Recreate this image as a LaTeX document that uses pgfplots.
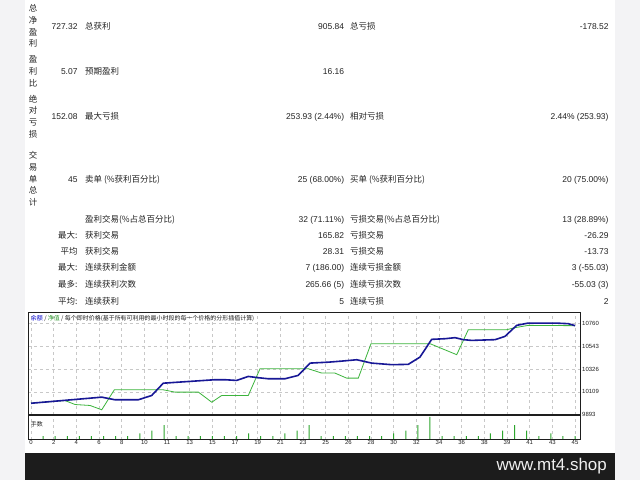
\documentclass[border=0pt]{standalone}
\usepackage{fontspec}
\usepackage{pgfplots}
\pgfplotsset{compat=1.18}
\setmainfont{Liberation Sans}
\newfontfamily\cjk{Noto Sans CJK SC}

\definecolor{txt}{RGB}{34,34,34}
\definecolor{side}{RGB}{243,243,245}
\definecolor{band}{RGB}{28,28,28}
\definecolor{bal}{RGB}{24,24,150}
\definecolor{eq}{RGB}{60,180,60}
\definecolor{lot}{RGB}{45,165,45}
\definecolor{gridc}{RGB}{200,200,200}
\definecolor{frame}{RGB}{30,30,30}

% right aligned value / left aligned label, y is the row centre in px
\newcommand\val[3]{\node[anchor=base east,inner sep=0,txt] at (#1,-#2-3.2) {#3};}
\newcommand\lab[3]{\node[anchor=base west,inner sep=0,txt] at (#1,-#2-3.2) {\cjk #3};}

\begin{document}
\begin{tikzpicture}
\begin{scope}[x=1bp,y=1bp]
  \useasboundingbox (0,0) rectangle (640,-480);
  \fill[white] (0,0) rectangle (640,-480);
  \fill[side] (0,0) rectangle (25,-480);
  \fill[side] (615,0) rectangle (640,-480);
  \fill[band] (25,-452.7) rectangle (615,-480);
  \node[anchor=base east,inner sep=0,text={rgb,255:red,240;green,240;blue,240},
        font=\fontsize{17}{19}\selectfont] at (607,-470.7) {www.mt4.shop};

  \begin{scope}[font=\fontsize{8.5}{11.7}\selectfont]
  % vertical group labels
  \node[align=center,inner sep=0,txt,font=\fontsize{8.5}{11.7}\selectfont\cjk] at (33,-26) {总\\净\\盈\\利};
  \node[align=center,inner sep=0,txt,font=\fontsize{8.5}{11.7}\selectfont\cjk] at (33,-71.5) {盈\\利\\比};
  \node[align=center,inner sep=0,txt,font=\fontsize{8.5}{11.7}\selectfont\cjk] at (33,-116.5) {绝\\对\\亏\\损};
  \node[align=center,inner sep=0,txt,font=\fontsize{8.5}{11.7}\selectfont\cjk] at (33,-179) {交\\易\\单\\总\\计};

  \val{77.7}{26}{727.32}   \lab{85}{26}{总获利}
  \val{344.3}{26}{905.84}  \lab{350}{26}{总亏损}
  \val{608.7}{26}{-178.52}

  \val{77.7}{71}{5.07}     \lab{85}{71}{预期盈利}
  \val{344.3}{71}{16.16}

  \val{77.7}{116.7}{152.08}  \lab{85}{116.7}{最大亏损}
  \val{344.3}{116.7}{253.93 (2.44\%)}  \lab{350}{116.7}{相对亏损}
  \val{608.7}{116.7}{2.44\% (253.93)}

  \val{77.7}{179.3}{45}    \lab{85}{179.3}{卖单 (\%获利百分比)}
  \val{344.3}{179.3}{25 (68.00\%)}  \lab{350}{179.3}{买单 (\%获利百分比)}
  \val{608.7}{179.3}{20 (75.00\%)}

  \lab{85}{219}{盈利交易(\%占总百分比)}
  \val{344.3}{219}{32 (71.11\%)}  \lab{350}{219}{亏损交易(\%占总百分比)}
  \val{608.7}{219}{13 (28.89\%)}

  \val{77.7}{235}{\cjk 最大:}  \lab{85}{235}{获利交易}
  \val{344.3}{235}{165.82}  \lab{350}{235}{亏损交易}
  \val{608.7}{235}{-26.29}

  \val{77.7}{251}{\cjk 平均}  \lab{85}{251}{获利交易}
  \val{344.3}{251}{28.31}  \lab{350}{251}{亏损交易}
  \val{608.7}{251}{-13.73}

  \val{77.7}{267.7}{\cjk 最大:}  \lab{85}{267.7}{连续获利金额}
  \val{344.3}{267.7}{7 (186.00)}  \lab{350}{267.7}{连续亏损金额}
  \val{608.7}{267.7}{3 (-55.03)}

  \val{77.7}{284.3}{\cjk 最多:}  \lab{85}{284.3}{连续获利次数}
  \val{344.3}{284.3}{265.66 (5)}  \lab{350}{284.3}{连续亏损次数}
  \val{608.7}{284.3}{-55.03 (3)}

  \val{77.7}{301}{\cjk 平均:}  \lab{85}{301}{连续获利}
  \val{344.3}{301}{5}  \lab{350}{301}{连续亏损}
  \val{608.7}{301}{2}
  \end{scope}
\end{scope}

% balance / equity chart
\begin{axis}[
  at={(28bp,-414.5bp)}, anchor=south west,
  width=552.5bp, height=102.5bp, scale only axis,
  xmin=-0.25, xmax=45.45, ymin=9893, ymax=10868,
  axis line style={frame,line width=1bp},
  xtick={0,1.875,...,45}, xticklabels={},
  ytick={9893,10109,10326,10543,10760},
  yticklabels={9893,10109,10326,10543,10760},
  scaled y ticks=false,
  yticklabel pos=right,
  major tick length=0,
  grid=major, grid style={gridc,dashed,line width=0.5bp},
  yticklabel style={font=\fontsize{6}{7}\selectfont,text=txt,inner sep=1.5bp},
]
\addplot[eq,line width=0.8bp] coordinates {
 (0,10001) (2.81,10026) (3.64,9988) (4.88,9979) (5.85,9938) (6.89,10128)
 (10.94,10128) (11.91,10106) (13.84,10106) (14.95,10010) (15.77,10074)
 (17.97,10074) (18.94,10328) (22.94,10328) (24.05,10287) (25.14,10287)
 (26.11,10239) (27.07,10239) (28.12,10567) (33.0,10567) (35.21,10462)
 (36.17,10700) (39.35,10700) (40.03,10719) (41.13,10741) (45,10738)
};
\addplot[bal,line width=1.6bp] coordinates {
 (0,10000) (5.85,10058) (6.95,10033) (8.87,10033) (9.98,10074) (10.94,10191)
 (15.22,10224) (16.05,10224) (17.0,10217) (17.97,10255) (18.8,10243)
 (19.63,10233) (21.0,10233) (22.1,10265) (23.08,10382) (24.6,10391)
 (25.7,10401) (26.94,10414) (28.18,10382) (29.83,10367) (31.2,10370)
 (32.17,10439) (33.14,10608) (34.24,10614) (35.07,10624) (35.76,10605)
 (36.45,10598) (38.38,10605) (39.2,10636) (40.17,10741) (41.13,10763)
 (43.34,10763) (44.44,10757) (45,10738)
};
\node[anchor=base west,inner sep=0,font=\fontsize{6}{7}\selectfont\cjk,text=txt]
  at (rel axis cs:0.005,0.915) {\textcolor{blue!80!black}{余额} / \textcolor{eq!85!black}{净值} / 每个即时价格(基于所有可利用的最小时段的每一个价格的分形插值计算)};
\end{axis}

% lots panel
\begin{axis}[
  at={(28bp,-439.5bp)}, anchor=south west,
  width=552.5bp, height=24.5bp, scale only axis,
  xmin=-0.25, xmax=45.45, ymin=-0.2, ymax=8.7,
  axis line style={frame,line width=1bp},
  xtick={0,1.875,...,45},
  xticklabels={0,2,4,6,8,10,11,13,15,17,19,21,23,25,26,28,30,32,34,36,38,39,41,43,45},
  ytick=\empty,
  major tick length=0,
  xmajorgrids, grid style={gridc,dashed,line width=0.5bp},
  xticklabel style={font=\fontsize{6}{7}\selectfont,text=txt,inner sep=1bp},
]
\addplot[ybar,bar width=1bp,bar shift=0pt,fill=lot,draw=none] coordinates {
 (1,1) (2,1) (3,1) (4,1) (5,1) (6,1) (7,1) (8,1) (9,2) (10,3) (11,5)
 (12,1) (13,1) (14,1) (15,1) (16,1) (17,1) (18,2) (19,1) (20,1) (21,2)
 (22,3) (23,5) (24,1) (25,1) (26,1) (27,1) (28,1) (29,1) (30,2) (31,3)
 (32,5) (33,8) (34,1) (35,1) (36,1) (37,1) (38,2) (39,3) (40,5) (41,3)
 (42,1) (43,2) (44,1) (45,1)
};
\node[anchor=base west,inner sep=0,font=\fontsize{6}{7}\selectfont\cjk,text=txt]
  at (rel axis cs:0.005,0.55) {手数};
\end{axis}
\end{tikzpicture}
\end{document}
